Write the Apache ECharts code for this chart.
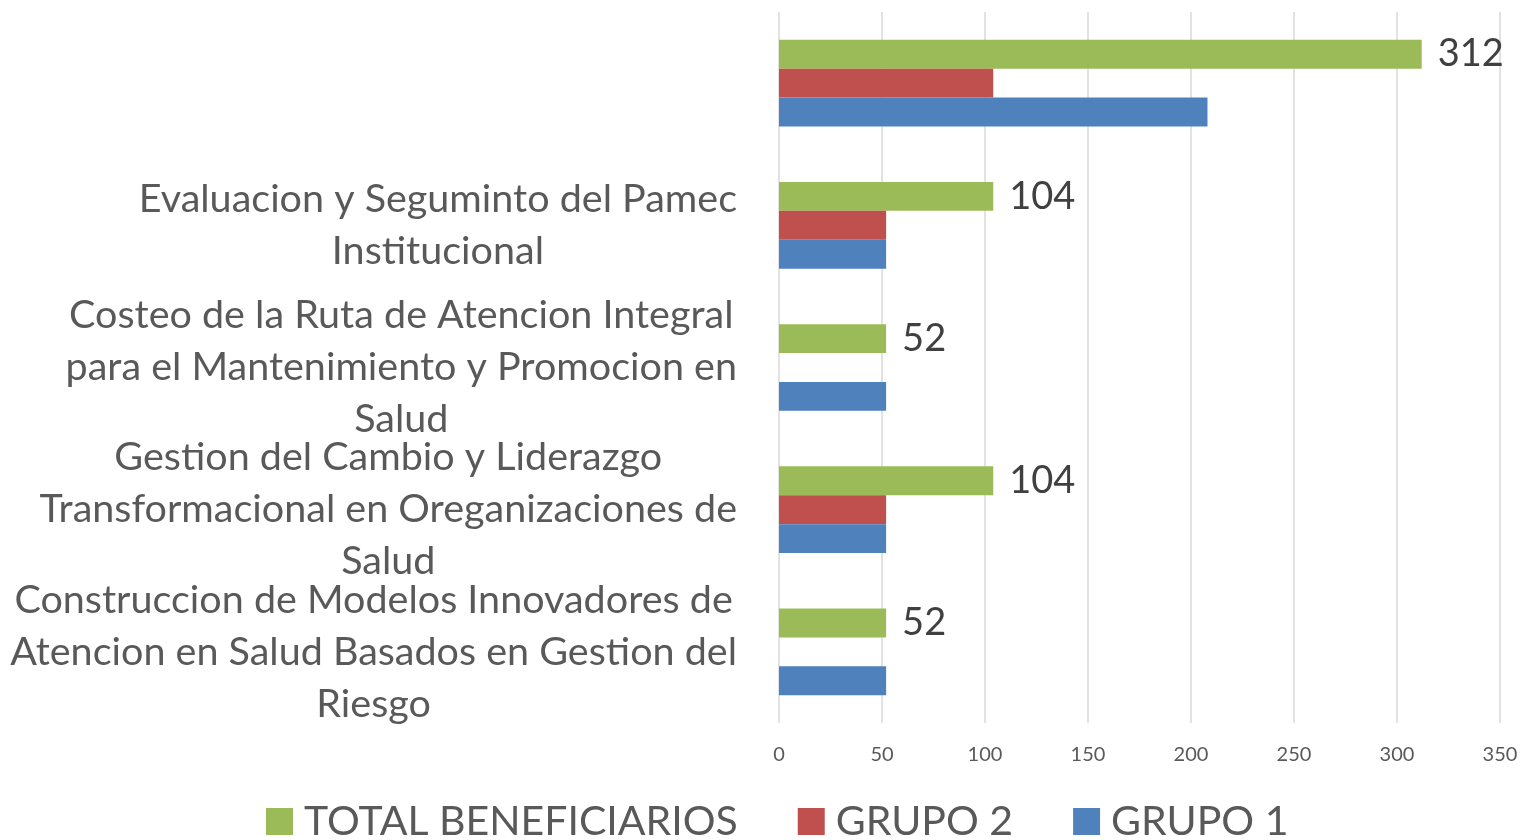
<!DOCTYPE html>
<html>
<head>
<meta charset="utf-8">
<script src="https://cdn.jsdelivr.net/npm/echarts@6/dist/echarts.min.js"></script>
<style>
  html, body { margin: 0; padding: 0; background: #fff; }
  #chart { width: 1523px; height: 840px; }
</style>
</head>
<body>
<div id="chart"></div>
<script>
// line breaks kept where the original chart wrapped them
const categories = [
  "",
  "Evaluacion y Seguminto del Pamec\nInstitucional",
  "Costeo de la Ruta de Atencion Integral\npara el Mantenimiento y Promocion en\nSalud",
  "Gestion del Cambio y Liderazgo\nTransformacional en Oreganizaciones de\nSalud",
  "Construccion de Modelos Innovadores de\nAtencion en Salud Basados en Gestion del\nRiesgo",
]
const seriesNames = ["TOTAL BENEFICIARIOS", "GRUPO 2", "GRUPO 1"]
const totalBeneficiarios = [312, 104, 52, 104, 52]
const grupo2 = [104, 52, 0, 52, 0]
const grupo1 = [208, 52, 52, 52, 52]
const axisMin = 0
const axisMax = 350
const axisStep = 50

const FONT = 'Lato, "Open Sans", sans-serif'
const colors = ["#9bbb59", "#c0504d", "#4f81bd"]

const chart = echarts.init(document.getElementById("chart"))

function labelRich(value) {
  return value.split("\n").map(line => "{c|" + line + "}").join("\n")
}

const option = {
  animation: false,
  color: colors,
  grid: {left: 779, right: 23, top: 12, bottom: 117, containLabel: false, outerBoundsMode: "none"},
  legend: {
    left: 261,
    top: 796,
    itemWidth: 27,
    itemHeight: 27,
    itemGap: 60,
    icon: "rect",
    data: seriesNames,
    textStyle: {fontFamily: FONT, fontSize: 41, color: "#595959", padding: [0, 0, 0, 6]},
  },
  xAxis: {
    type: "value",
    min: axisMin,
    max: axisMax,
    interval: axisStep,
    axisLine: {show: false},
    axisTick: {show: false},
    axisLabel: {fontFamily: FONT, fontSize: 20, color: "#595959", margin: 22},
    splitLine: {lineStyle: {color: "#d9d9d9", width: 1.5}},
  },
  yAxis: {
    type: "category",
    inverse: true,
    data: categories,
    axisLine: {show: false},
    axisTick: {show: false},
    axisLabel: {
      interval: 0,
      margin: 42,
      formatter: labelRich,
      rich: {
        c: {fontFamily: FONT, fontSize: 39.5, lineHeight: 52, color: "#595959", align: "center"},
      },
    },
  },
  series: [
    {
      name: seriesNames[0],
      type: "bar",
      data: totalBeneficiarios,
      barGap: "0%",
      barCategoryGap: "39%",
      label: {
        show: true,
        position: "right",
        distance: 16,
        fontFamily: FONT,
        fontSize: 38,
        color: "#404040",
      },
    },
    {name: seriesNames[1], type: "bar", data: grupo2, barGap: "0%", barCategoryGap: "39%"},
    {name: seriesNames[2], type: "bar", data: grupo1, barGap: "0%", barCategoryGap: "39%"},
  ],
}

chart.setOption(option)
</script>
</body>
</html>
